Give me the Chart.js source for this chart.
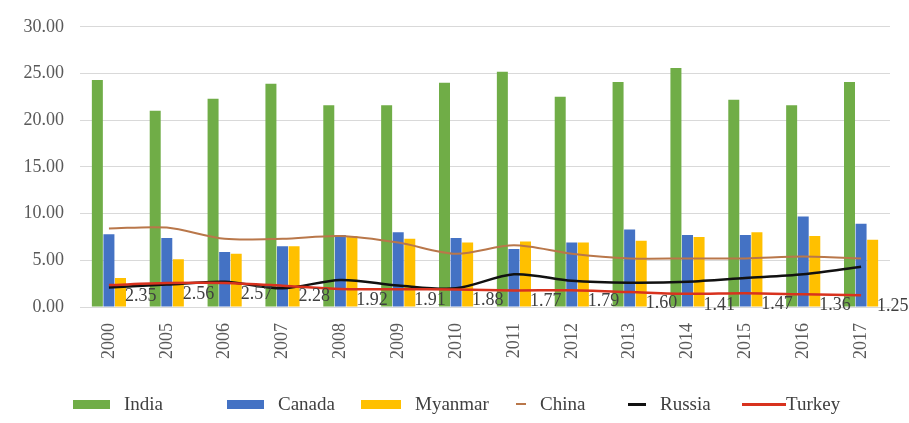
<!DOCTYPE html>
<html>
<head>
<meta charset="utf-8">
<script src="https://cdn.jsdelivr.net/npm/chart.js@4/dist/chart.umd.min.js"></script>
<style>
    html, body { margin: 0; padding: 0; background: #fff; }
    #wrap { position: relative; width: 909px; height: 423px; }
    #legend { position: absolute; left: 0; top: 392px; width: 909px; height: 24px; font-family: "Liberation Serif", serif; font-size: 19px; color: #404040; }
    #legend .item { position: absolute; top: 0; height: 24px; display: flex; align-items: center; }
    #legend .sw { display: inline-block; margin-right: 14px; }
</style>
</head>
<body>
<div id="wrap">
    <canvas id="chart"></canvas>
    <div id="legend"></div>
</div>
<script>
// Chart data
const years = ['2000', '2005', '2006', '2007', '2008', '2009', '2010', '2011', '2012', '2013', '2014', '2015', '2016', '2017'];
const india = [24.3, 21.0, 22.3, 23.9, 21.6, 21.6, 24.0, 25.2, 22.5, 24.1, 25.6, 22.2, 21.6, 24.1];
const canada = [7.8, 7.4, 5.9, 6.5, 7.7, 8.0, 7.4, 6.2, 6.9, 8.3, 7.7, 7.7, 9.7, 8.9];
const myanmar = [3.1, 5.1, 5.7, 6.5, 7.6, 7.3, 6.9, 7.0, 6.9, 7.1, 7.5, 8.0, 7.6, 7.2];
const china = [8.4, 8.5, 7.3, 7.3, 7.6, 6.9, 5.7, 6.6, 5.7, 5.2, 5.2, 5.2, 5.4, 5.2];
const russia = [2.1, 2.4, 2.7, 2.0, 2.9, 2.3, 2.0, 3.5, 2.8, 2.6, 2.7, 3.1, 3.5, 4.3];
const turkey = [2.35, 2.56, 2.57, 2.28, 1.92, 1.91, 1.88, 1.77, 1.79, 1.60, 1.41, 1.47, 1.36, 1.25];
const yTicks = [0, 5, 10, 15, 20, 25, 30];

const SERIF = '"Liberation Serif", "Times New Roman", serif';
const GREEN = '#70AD47', BLUE = '#4472C4', YELLOW = '#FFC000';
const BROWN = '#B9774A', BLACK = '#111111', RED = '#D8321E';

// Turkey value labels, sitting to the right of each point
const turkeyLabels = {
    id: 'turkeyLabels',
    afterDatasetsDraw(chart) {
        const idx = chart.data.datasets.findIndex(d => d.label === 'Turkey');
        const meta = chart.getDatasetMeta(idx);
        const ctx = chart.ctx;
        ctx.save();
        ctx.font = '18px ' + SERIF;
        ctx.fillStyle = '#404040';
        ctx.textAlign = 'left';
        ctx.textBaseline = 'middle';
        meta.data.forEach((pt, i) => {
            ctx.fillText(turkey[i].toFixed(2), pt.x + 16, pt.y + 11);
        });
        ctx.restore();
    }
};

new Chart(document.getElementById('chart'), {
    type: 'bar',
    data: {
        labels: years,
        datasets: [
            { label: 'India', data: india, backgroundColor: GREEN, order: 2, categoryPercentage: 0.6, barPercentage: 0.95 },
            { label: 'Canada', data: canada, backgroundColor: BLUE, order: 2, categoryPercentage: 0.6, barPercentage: 0.95 },
            { label: 'Myanmar', data: myanmar, backgroundColor: YELLOW, order: 2, categoryPercentage: 0.6, barPercentage: 0.95 },
            { type: 'line', label: 'China', data: china, borderColor: BROWN, borderWidth: 2, pointRadius: 0, tension: 0.3, order: 1 },
            { type: 'line', label: 'Russia', data: russia, borderColor: BLACK, borderWidth: 2.5, pointRadius: 0, tension: 0.3, order: 1 },
            { type: 'line', label: 'Turkey', data: turkey, borderColor: RED, borderWidth: 2.5, pointRadius: 0, tension: 0.3, order: 0 }
        ]
    },
    options: {
        responsive: true, maintainAspectRatio: false, animation: false,
        layout: { padding: { top: 16, right: 19, bottom: 56, left: 0 } },
        plugins: { legend: { display: false }, tooltip: { enabled: false } },
        scales: {
            x: {
                grid: { display: false },
                border: { color: '#D9D9D9' },
                ticks: { font: { family: SERIF, size: 18 }, color: '#595959', minRotation: 90, maxRotation: 90, padding: 8 },
                afterFit: s => { s.height = 60; }
            },
            y: {
                min: 0, max: 30,
                afterBuildTicks: s => { s.ticks = yTicks.map(v => ({ value: v })); },
                grid: { color: '#D9D9D9', drawTicks: false },
                border: { display: false },
                ticks: { font: { family: SERIF, size: 18 }, color: '#595959', padding: 16, callback: v => v.toFixed(2) },
                afterFit: s => { s.width = 80; }
            }
        }
    },
    plugins: [turkeyLabels]
});

// HTML legend, spaced like the original
const legendItems = [
    { name: 'India', kind: 'box', color: GREEN, left: 73, w: 37 },
    { name: 'Canada', kind: 'box', color: BLUE, left: 227, w: 37 },
    { name: 'Myanmar', kind: 'box', color: YELLOW, left: 361, w: 40 },
    { name: 'China', kind: 'line', color: BROWN, left: 516, w: 10, h: 2 },
    { name: 'Russia', kind: 'line', color: BLACK, left: 628, w: 18, h: 3 },
    { name: 'Turkey', kind: 'line', color: RED, left: 742, w: 44, h: 3, gap: 0 }
];
document.getElementById('legend').innerHTML = legendItems.map(it => {
    const h = it.kind === 'box' ? 9 : it.h;
    const gap = it.gap !== undefined ? it.gap : 14;
    return `<span class="item" style="left:${it.left}px"><span class="sw" style="width:${it.w}px;height:${h}px;background:${it.color};margin-right:${gap}px"></span>${it.name}</span>`;
}).join('');
</script>
</body>
</html>
